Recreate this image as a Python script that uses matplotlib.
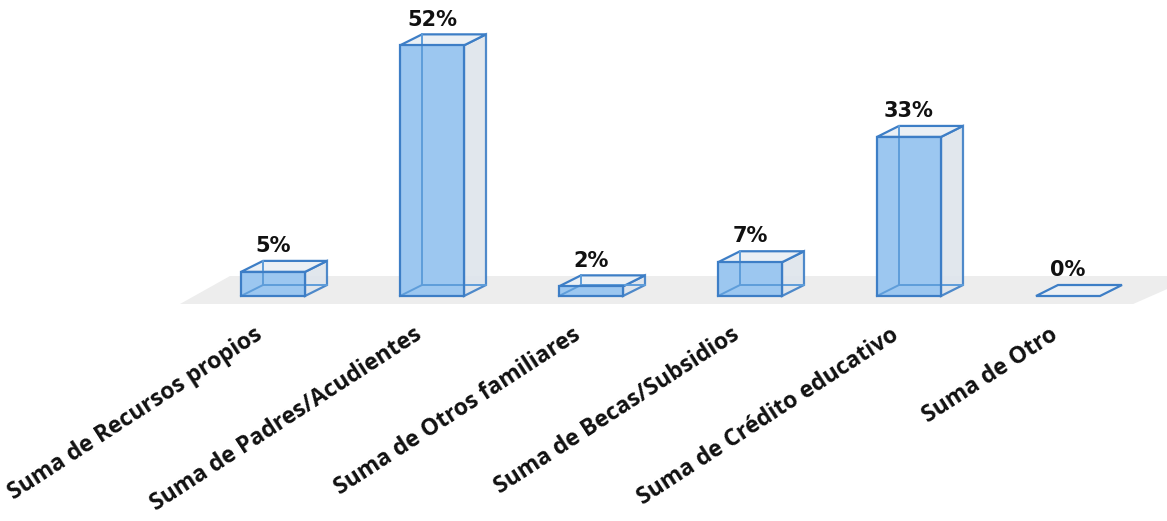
import numpy as np
import matplotlib.pyplot as plt
from matplotlib.patches import Polygon

categories = ["Suma de Recursos propios", "Suma de Padres/Acudientes",
              "Suma de Otros familiares", "Suma de Becas/Subsidios",
              "Suma de Crédito educativo", "Suma de Otro"]
values = [5, 52, 2, 7, 33, 0]
labels = ["5%", "52%", "2%", "7%", "33%", "0%"]

edge = '#3D7EC6'
inner_edge = '#5E9DDA'
front_col = '#9CC7F0'
side_col = '#DEE5EC'
top_col = '#EBF0F5'
floor_col = '#EDEDED'

W, H = 1167, 521
fig = plt.figure(figsize=(W / 100, H / 100), dpi=100)
ax = fig.add_axes([0, 0, 1, 1])

# pixel layout -> data units
x0_px, step_px = 273, 159
base_px, px_per_pct = 296, 4.82
ax.set_xlim(-x0_px / step_px, (W - x0_px) / step_px)
ax.set_ylim((base_px - H) / px_per_pct, base_px / px_per_pct)
ax.axis('off')

hw = 32 / step_px          # half bar width
dx = 22 / step_px          # depth offset x
dy = 11 / px_per_pct       # depth offset y

# floor
n = len(values)
f_front = -8 / px_per_pct
f_back = f_front + 28 / px_per_pct
f_dx = 50 / step_px
floor = Polygon([(-0.585, f_front), (n - 0.59, f_front),
                 (n - 0.59 + 0.4, f_back), (-0.585 + f_dx, f_back)],
                closed=True, facecolor=floor_col, edgecolor='none', zorder=1)
ax.add_patch(floor)

lw = 1.6
for i, v in enumerate(values):
    xl, xr = i - hw, i + hw
    if v > 0:
        # right side
        ax.add_patch(Polygon([(xr, 0), (xr + dx, dy), (xr + dx, v + dy), (xr, v)],
                             closed=True, facecolor=side_col, edgecolor=edge,
                             lw=lw, alpha=0.9, zorder=3))
        # top
        ax.add_patch(Polygon([(xl, v), (xr, v), (xr + dx, v + dy), (xl + dx, v + dy)],
                             closed=True, facecolor=top_col, edgecolor=edge,
                             lw=lw, zorder=3))
        # front
        ax.add_patch(Polygon([(xl, 0), (xr, 0), (xr, v), (xl, v)],
                             closed=True, facecolor=front_col, edgecolor='none',
                             zorder=4))
        # back edges seen through the front
        ax.plot([xl, xl + dx, xr + dx], [0, dy, dy], color=inner_edge, lw=1.4, zorder=4.5)
        ax.plot([xl + dx, xl + dx], [dy, v + dy], color=inner_edge, lw=1.4, zorder=4.5)
        ax.add_patch(Polygon([(xl, 0), (xr, 0), (xr, v), (xl, v)],
                             closed=True, facecolor='none', edgecolor=edge,
                             lw=lw, zorder=5))
    else:
        ax.add_patch(Polygon([(xl, 0), (xr, 0), (xr + dx, dy), (xl + dx, dy)],
                             closed=True, facecolor=top_col, edgecolor=edge,
                             lw=lw, zorder=3))
    ax.text(i, v + dy + 1.0, labels[i], ha='center', va='bottom',
            fontsize=15, fontweight='bold', color='#111111', zorder=6)
    ax.text(i - 0.12, -5.6, categories[i], ha='right', va='top', rotation=33,
            rotation_mode='anchor', fontsize=16.5, fontweight='bold',
            family='Open Sans', color='#111111', zorder=6)

fig.savefig('out.png', dpi=100)
